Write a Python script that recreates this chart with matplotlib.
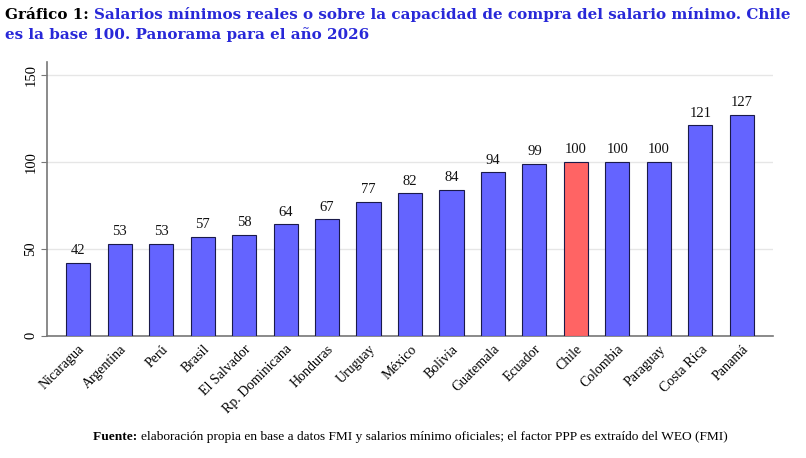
import matplotlib
matplotlib.use("Agg")
import matplotlib.pyplot as plt

paises = ["Nicaragua", "Argentina", "Perú", "Brasil", "El Salvador", "Rp. Dominicana",
          "Honduras", "Uruguay", "México", "Bolivia", "Guatemala", "Ecuador", "Chile",
          "Colombia", "Paraguay", "Costa Rica", "Panamá"]
valores = [42, 53, 53, 57, 58, 64, 67, 77, 82, 84, 94, 99, 100, 100, 100, 121, 127]
yticks = [0, 50, 100, 150]

BLUE = "#6464ff"
RED = "#ff6464"
EDGE = "#1a1a4a"
TITLE_BLUE = "#2828d8"
SERIF = ["Liberation Serif", "DejaVu Serif"]

W, H = 806, 458
fig = plt.figure(figsize=(W / 100, H / 100), dpi=100)
ax = fig.add_axes([47 / W, 1 - 335.7 / H, (773 - 47) / W, (335.7 - 62) / H])

colors = [RED if p == "Chile" else BLUE for p in paises]
x = list(range(len(paises)))
ax.bar(x, valores, width=0.58, color=colors, edgecolor=EDGE, linewidth=0.8, zorder=3)
for xi, v in zip(x, valores):
    ax.annotate(f"{v}", (xi, v), xytext=(0, 4), textcoords="offset points",
                ha="center", va="bottom", fontsize=10.5, family=SERIF, color="#111111")

ax.set_xlim(-0.75, 16.75)
ax.set_ylim(0, 157.5)
ax.set_yticks(yticks)
ax.set_yticklabels([str(t) for t in yticks], rotation=90, va="center",
                   fontsize=10.5, family=SERIF)
ax.set_xticks(x)
ax.set_xticklabels(paises, rotation=45, ha="right", rotation_mode="anchor",
                   fontsize=10, family=SERIF)
ax.tick_params(axis="x", length=0, pad=5)
ax.tick_params(axis="y", length=4, color="#777777", pad=3)
ax.grid(axis="y", color="#e6e6e6", linewidth=1.0, zorder=0)
for s in ["top", "right"]:
    ax.spines[s].set_visible(False)
for s in ["left", "bottom"]:
    ax.spines[s].set_color("#777777")
    ax.spines[s].set_linewidth(1.2)

# Title (fit first line to reference width)
fig.canvas.draw()
renderer = fig.canvas.get_renderer()
line1a = "Gráfico 1: "
line1b = "Salarios mínimos reales o sobre la capacidad de compra del salario mínimo. Chile"
line2 = "es la base 100. Panorama para el año 2026"
probe = fig.text(0, 0, line1a + line1b, fontsize=10, fontweight="bold", family=["DejaVu Serif"])
wprobe = probe.get_window_extent(renderer).width
probe.remove()
tsize = 10 * 785 / wprobe

t1 = fig.text(5 / W, 1 - 19 / H, line1a, fontsize=tsize, fontweight="bold",
              family=["DejaVu Serif"], color="black", va="baseline")
bb = t1.get_window_extent(renderer)
fig.text(bb.x1 / W, 1 - 19 / H, line1b,
         fontsize=tsize, fontweight="bold", family=["DejaVu Serif"], color=TITLE_BLUE, va="baseline")
fig.text(5 / W, 1 - 38.5 / H, line2,
         fontsize=tsize, fontweight="bold", family=["DejaVu Serif"], color=TITLE_BLUE, va="baseline")

# Footer
fsize = 9.65
f1 = fig.text(93 / W, 1 - 440 / H, "Fuente: ", fontsize=fsize, fontweight="bold",
              family=SERIF, color="black", va="baseline")
bb2 = f1.get_window_extent(renderer)
fig.text(bb2.x1 / W, 1 - 440 / H,
         "elaboración propia en base a datos FMI y salarios mínimo oficiales; el factor PPP es extraído del WEO (FMI)",
         fontsize=fsize, family=SERIF, color="black", va="baseline")

fig.savefig("out.png", dpi=100)
